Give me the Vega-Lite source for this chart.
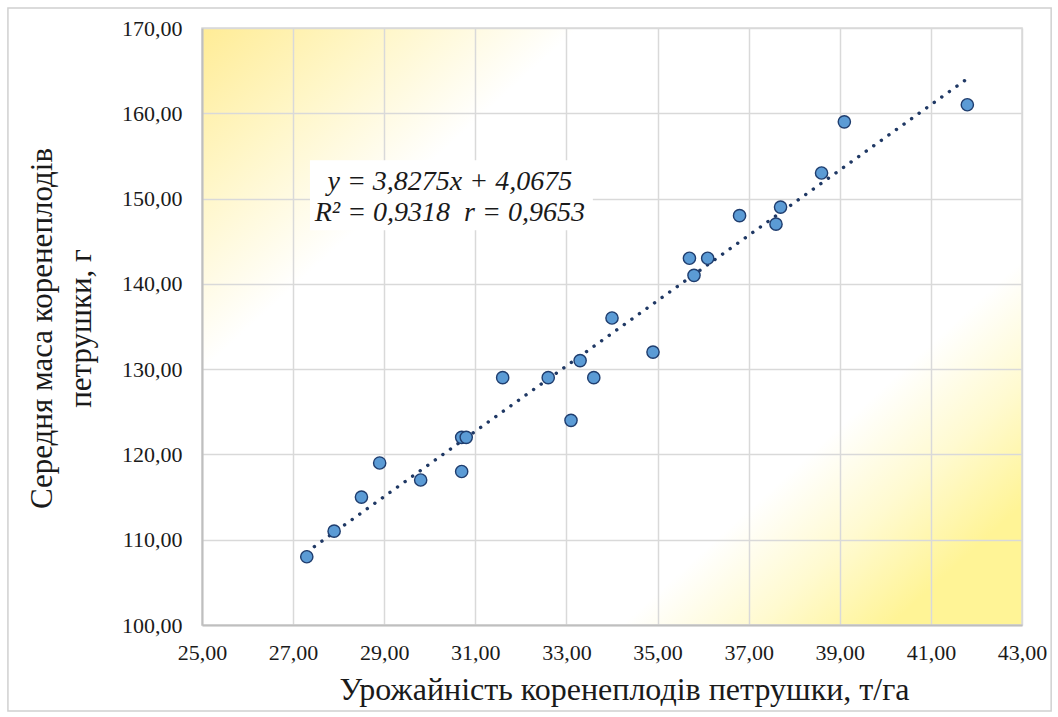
{
  "$schema": "https://vega.github.io/schema/vega-lite/v6.json",
  "width": 820,
  "height": 597,
  "autosize": "none",
  "padding": {"left": 202, "top": 28, "right": 36, "bottom": 92},
  "background": "white",
  "view": {
    "fill": {
      "gradient": "linear",
      "x1": 0, "y1": 0, "x2": 1, "y2": 0.8,
      "stops": [
        {"offset": 0, "color": "#FFEC96"},
        {"offset": 0.13, "color": "#FFF6C6"},
        {"offset": 0.28, "color": "#FFFFFF"},
        {"offset": 0.8, "color": "#FFFFFF"},
        {"offset": 0.9, "color": "#FFFAD0"},
        {"offset": 1, "color": "#FFF496"}
      ]
    },
    "stroke": "#D9D9D9",
    "strokeWidth": 1.5
  },
  "config": {
    "locale": {"number": {"decimal": ",", "thousands": " ", "grouping": [3], "currency": ["", ""]}},
    "font": "Liberation Serif, Times New Roman, serif"
  },
  "data": {
    "values": [
      {"x": 27.3, "y": 108}, {"x": 27.9, "y": 111}, {"x": 28.5, "y": 115}, {"x": 28.9, "y": 119},
      {"x": 29.8, "y": 117}, {"x": 30.7, "y": 118}, {"x": 30.7, "y": 122}, {"x": 30.8, "y": 122},
      {"x": 31.6, "y": 129}, {"x": 32.6, "y": 129}, {"x": 33.1, "y": 124}, {"x": 33.3, "y": 131},
      {"x": 33.6, "y": 129}, {"x": 34.0, "y": 136}, {"x": 34.9, "y": 132}, {"x": 35.7, "y": 143},
      {"x": 35.8, "y": 141}, {"x": 36.1, "y": 143}, {"x": 36.8, "y": 148}, {"x": 37.6, "y": 147},
      {"x": 37.7, "y": 149}, {"x": 38.6, "y": 153}, {"x": 39.1, "y": 159}, {"x": 41.8, "y": 161}
    ]
  },
  "layer": [
    {
      "data": {"values": [{}]},
      "mark": {"type": "rect", "filled": false, "stroke": "#D0D0D0", "strokeWidth": 1.5, "clip": false},
      "encoding": {
        "x": {"datum": 20.74, "type": "quantitative"},
        "x2": {"datum": 43.64},
        "y": {"datum": 172.35, "type": "quantitative"},
        "y2": {"datum": 89.92}
      }
    },
    {
      "transform": [{"regression": "y", "on": "x"}],
      "mark": {"type": "line", "color": "#1F3864", "strokeWidth": 3.4, "strokeDash": [0.1, 9.2], "strokeCap": "round"},
      "encoding": {
        "x": {"field": "x", "type": "quantitative"},
        "y": {"field": "y", "type": "quantitative"}
      }
    },
    {
      "mark": {"type": "circle", "size": 150, "fill": "#5B9BD5", "stroke": "#1F3D6E", "strokeWidth": 1.4, "opacity": 1, "fillOpacity": 1},
      "encoding": {
        "x": {
          "field": "x", "type": "quantitative",
          "scale": {"domain": [25, 43], "nice": false, "zero": false},
          "axis": {
            "title": "Урожайність коренеплодів петрушки, т/га",
            "values": [25, 27, 29, 31, 33, 35, 37, 39, 41, 43],
            "format": ".2f",
            "grid": true, "gridColor": "#D9D9D9", "gridWidth": 1.5,
            "domainColor": "#BFBFBF", "domainWidth": 2,
            "ticks": false,
            "labelFont": "Liberation Serif, Times New Roman, serif", "labelFontSize": 22, "labelColor": "#1a1a1a", "labelPadding": 17,
            "labelFlush": false, "labelOverlap": false,
            "titleFont": "Liberation Serif, Times New Roman, serif", "titleFontSize": 32, "titleFontWeight": "normal", "titleColor": "#1a1a1a",
            "titleX": 422, "titleY": 74, "titleBaseline": "alphabetic"
          }
        },
        "y": {
          "field": "y", "type": "quantitative",
          "scale": {"domain": [100, 170], "nice": false, "zero": false},
          "axis": {
            "title": ["Середня маса коренеплодів", "петрушки, г"],
            "values": [100, 110, 120, 130, 140, 150, 160, 170],
            "format": ".2f",
            "grid": true, "gridColor": "#D9D9D9", "gridWidth": 1.5,
            "domainColor": "#BFBFBF", "domainWidth": 2,
            "ticks": false,
            "labelFont": "Liberation Serif, Times New Roman, serif", "labelFontSize": 22, "labelColor": "#1a1a1a", "labelPadding": 20,
            "labelFlush": false, "labelOverlap": false,
            "titleFont": "Liberation Serif, Times New Roman, serif", "titleFontSize": 31, "titleFontWeight": "normal", "titleColor": "#1a1a1a",
            "titleX": -160, "titleY": 300, "titleBaseline": "middle", "titleLineHeight": 39, "titleAngle": -90
          }
        }
      }
    },
    {
      "data": {"values": [{}]},
      "mark": {"type": "rect", "fill": "white", "stroke": null},
      "encoding": {
        "x": {"datum": 27.37, "type": "quantitative"},
        "x2": {"datum": 33.58},
        "y": {"datum": 154.5, "type": "quantitative"},
        "y2": {"datum": 146.3}
      }
    },
    {
      "data": {"values": [{}]},
      "mark": {
        "type": "text",
        "text": ["y = 3,8275x + 4,0675", "R² = 0,9318 \u00a0r = 0,9653"],
        "font": "Liberation Serif, Times New Roman, serif", "fontStyle": "italic", "fontSize": 28, "lineHeight": 31,
        "align": "center", "baseline": "middle", "color": "#1a1a1a"
      },
      "encoding": {
        "x": {"datum": 30.44, "type": "quantitative"},
        "y": {"datum": 151.94, "type": "quantitative"}
      }
    }
  ]
}
